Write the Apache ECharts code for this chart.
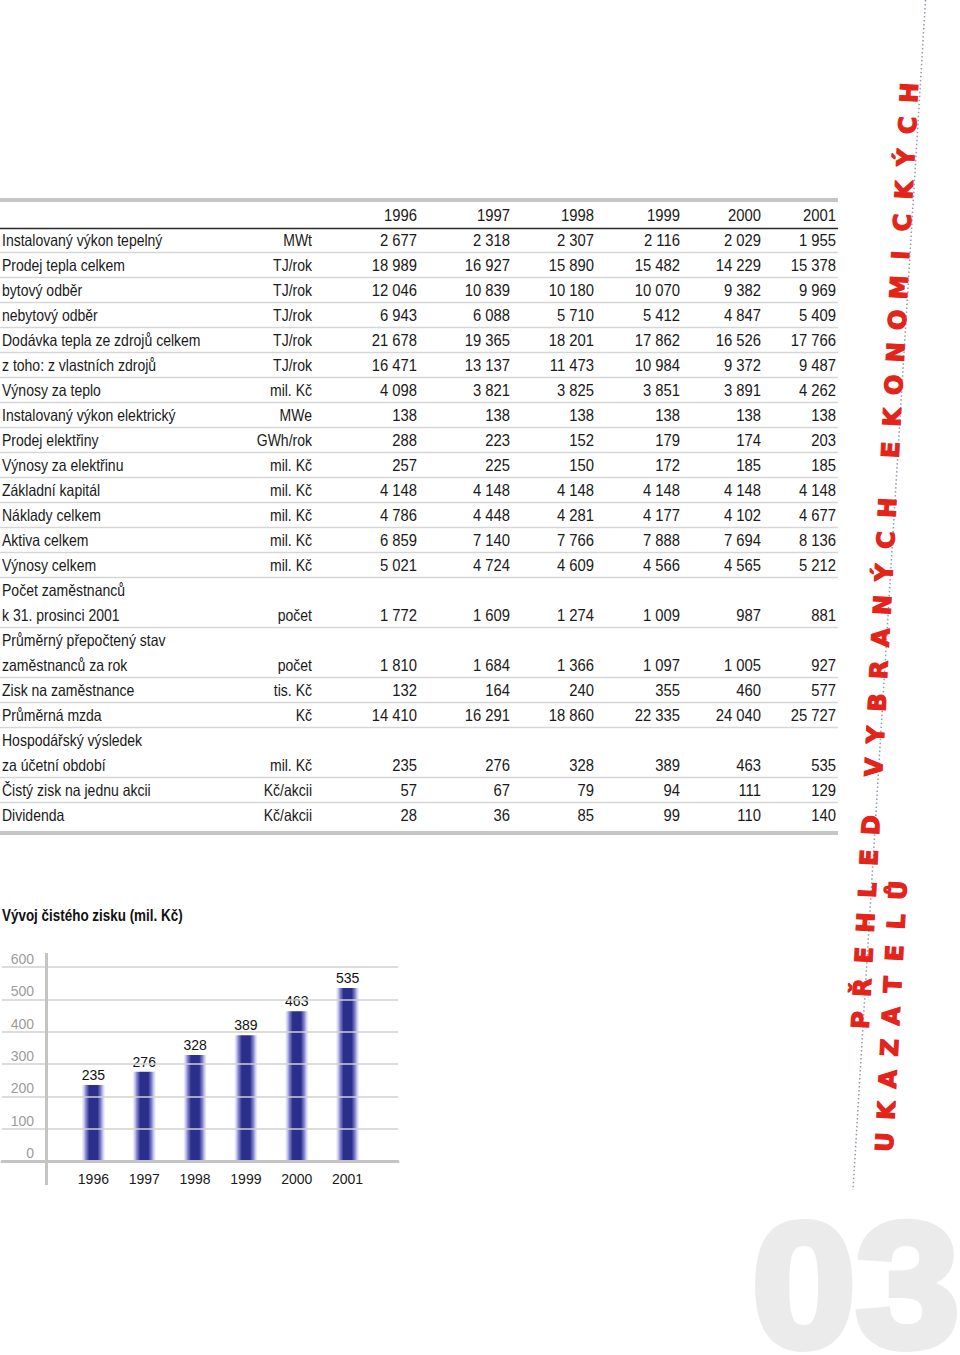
<!DOCTYPE html>
<html><head><meta charset="utf-8">
<script src="https://cdn.jsdelivr.net/npm/echarts@6/dist/echarts.min.js"></script>
<style>html,body{margin:0;padding:0;background:#fff}#c{width:960px;height:1355px}</style>
</head><body><div id="c"></div>
<script>
// ---------- data ----------
const years = ['1996', '1997', '1998', '1999', '2000', '2001'];
const rowLabels = [
  'Instalovaný výkon tepelný', 'Prodej tepla celkem', 'bytový odběr', 'nebytový odběr',
  'Dodávka tepla ze zdrojů celkem', 'z toho: z vlastních zdrojů', 'Výnosy za teplo',
  'Instalovaný výkon elektrický', 'Prodej elektřiny', 'Výnosy za elektřinu', 'Základní kapitál',
  'Náklady celkem', 'Aktiva celkem', 'Výnosy celkem', 'Počet zaměstnanců', 'k 31. prosinci 2001',
  'Průměrný přepočtený stav', 'zaměstnanců za rok', 'Zisk na zaměstnance', 'Průměrná mzda',
  'Hospodářský výsledek', 'za účetní období', 'Čistý zisk na jednu akcii', 'Dividenda'
];
const rowUnits = [
  'MWt', 'TJ/rok', 'TJ/rok', 'TJ/rok', 'TJ/rok', 'TJ/rok', 'mil. Kč', 'MWe', 'GWh/rok', 'mil. Kč',
  'mil. Kč', 'mil. Kč', 'mil. Kč', 'mil. Kč', '', 'počet', '', 'počet', 'tis. Kč', 'Kč', '', 'mil. Kč',
  'Kč/akcii', 'Kč/akcii'
];
const rowValues = [
  [2677, 2318, 2307, 2116, 2029, 1955],
  [18989, 16927, 15890, 15482, 14229, 15378],
  [12046, 10839, 10180, 10070, 9382, 9969],
  [6943, 6088, 5710, 5412, 4847, 5409],
  [21678, 19365, 18201, 17862, 16526, 17766],
  [16471, 13137, 11473, 10984, 9372, 9487],
  [4098, 3821, 3825, 3851, 3891, 4262],
  [138, 138, 138, 138, 138, 138],
  [288, 223, 152, 179, 174, 203],
  [257, 225, 150, 172, 185, 185],
  [4148, 4148, 4148, 4148, 4148, 4148],
  [4786, 4448, 4281, 4177, 4102, 4677],
  [6859, 7140, 7766, 7888, 7694, 8136],
  [5021, 4724, 4609, 4566, 4565, 5212],
  null,
  [1772, 1609, 1274, 1009, 987, 881],
  null,
  [1810, 1684, 1366, 1097, 1005, 927],
  [132, 164, 240, 355, 460, 577],
  [14410, 16291, 18860, 22335, 24040, 25727],
  null,
  [235, 276, 328, 389, 463, 535],
  [57, 67, 79, 94, 111, 129],
  [28, 36, 85, 99, 110, 140]
];
const profitYears = ['1996', '1997', '1998', '1999', '2000', '2001'];
const profitValues = [235, 276, 328, 389, 463, 535];
const chartTitle = 'Vývoj čistého zisku (mil. Kč)';
const sideTitle1 = 'PŘEHLED VYBRANÝCH EKONOMICKÝCH';
const sideTitle2 = 'UKAZATELŮ';
const pageNumber = '03';

// ---------- layout ----------
const SANS = '"Liberation Sans", Arial, sans-serif';
const HEAVY = '"DejaVu Sans", "Liberation Sans", sans-serif';
const TEXT = '#1a1a1a';
const tableLeft = 0, tableRight = 838;
const headerY = 215, rowY0 = 240, rowH = 25;
const unitRight = 312;
const colRight = [417, 510, 594, 680, 761, 836];
const LABEL_SX = 0.86, NUM_SX = 0.91;
const fmt = v => String(v).replace(/\B(?=(\d{3})+(?!\d))/g, ' ');

const g = [];
function txt(s, x, y, o) {
  o = o || {};
  const st = {
    text: s, fill: o.fill || TEXT, fontSize: o.size || 16.3, fontFamily: o.family || SANS,
    fontWeight: o.weight || 'normal', align: o.align || 'left', verticalAlign: o.va || 'middle'
  };
  if (o.stroke) { st.stroke = o.stroke; st.lineWidth = o.lw; }
  g.push({
    type: 'text', x: x, y: y, rotation: o.rot || 0, scaleX: o.sx || 1, z: o.z || 10, silent: true,
    style: st
  });
}
function line(x1, y1, x2, y2, stroke, w, dash) {
  g.push({ type: 'line', silent: true, z: 5, shape: { x1, y1, x2, y2 },
    style: { stroke, lineWidth: w, lineDash: dash || null } });
}

// table rules
line(tableLeft, 200, tableRight, 200, '#c6c6c6', 4);
line(tableLeft, 228.5, tableRight, 228.5, '#2a2a2a', 1.5);
line(tableLeft, 833, tableRight, 833, '#c6c6c6', 4);
years.forEach((y, j) => txt(y, colRight[j], headerY, { align: 'right', sx: NUM_SX }));
rowLabels.forEach((lab, i) => {
  const y = rowY0 + i * rowH;
  txt(lab, 2, y, { sx: LABEL_SX });
  if (rowUnits[i]) txt(rowUnits[i], unitRight, y, { align: 'right', sx: LABEL_SX });
  if (rowValues[i]) rowValues[i].forEach((v, j) => txt(fmt(v), colRight[j], y, { align: 'right', sx: NUM_SX }));
  if (i < rowLabels.length - 1 && rowValues[i]) {
    const ly = y + 12.5;
    line(tableLeft, ly, tableRight, ly, '#d6d6d6', 1.5);
  }
});

// chart title
txt(chartTitle, 2, 916, { weight: 'bold', size: 16, fill: '#111', sx: 0.84 });
// y axis extended line
line(46.5, 953, 46.5, 1185, '#c4c4c4', 3);

// side titles (letters along a slightly tilted line)
const ang = 3 * Math.PI / 180;
const dx = Math.sin(ang), dy = -Math.cos(ang);
function sideText(str, sx, sy, pitch, spaceExtra) {
  let d = 0;
  for (const ch of str) {
    if (ch === ' ') { d += spaceExtra; continue; }
    txt(ch, sx + dx * d, sy + dy * d, { rot: Math.PI / 2 - ang, align: 'center', size: 24,
      weight: 'bold', family: HEAVY, fill: '#e3241b', stroke: '#e3241b', lw: 1.3 });
    d += pitch;
  }
}
sideText(sideTitle1, 861, 1020, 32.5, 25.5);
sideText(sideTitle2, 885, 1142, 31.5, 25);
// dotted guide line
line(925.5, 0, 853, 1190, '#8c9cab', 1.5, [1.5, 2.5]);
// page number
txt(pageNumber, 752, 1285, { size: 176, weight: 'bold', family: SANS, fill: '#ebebeb',
  stroke: '#ebebeb', lw: 8, z: 1, sx: 1.06 });

// ---------- chart ----------
const chart = echarts.init(document.getElementById('c'), null, { renderer: 'svg', width: 960, height: 1355 });
const barGrad = new echarts.graphic.LinearGradient(0, 0, 1, 0, [
  { offset: 0, color: 'rgba(200,202,245,0.2)' },
  { offset: 0.17, color: 'rgba(110,115,200,0.85)' },
  { offset: 0.32, color: '#2b2f8c' },
  { offset: 0.68, color: '#2b2f8c' },
  { offset: 0.83, color: 'rgba(110,115,200,0.85)' },
  { offset: 1, color: 'rgba(200,202,245,0.2)' }
]);
chart.setOption({
  backgroundColor: '#ffffff',
  animation: false,
  grid: [
    { left: 2, width: 396, top: 967, height: 194 },
    { left: 68, width: 305, top: 967, height: 194 }
  ],
  xAxis: [
    { gridIndex: 0, type: 'value', min: 0, max: 1, z: 4,
      axisLine: { show: true, lineStyle: { color: '#c4c4c4', width: 3 } },
      axisTick: { show: false }, axisLabel: { show: false }, splitLine: { show: false } },
    { gridIndex: 1, type: 'category', data: profitYears,
      axisLine: { show: false }, axisTick: { show: false },
      axisLabel: { color: '#1a1a1a', fontSize: 14, fontFamily: SANS, margin: 11 } }
  ],
  yAxis: [
    { gridIndex: 0, type: 'value', min: 0, max: 600, interval: 100, z: 3,
      axisLine: { show: false }, axisTick: { show: false },
      axisLabel: { inside: true, align: 'right', margin: 32, verticalAlign: 'bottom',
        color: '#9c9c9c', fontSize: 14, fontFamily: SANS, padding: [0, 0, 1, 0] },
      splitLine: { lineStyle: { color: '#d0d0d0', width: 1.5 } } },
    { gridIndex: 1, type: 'value', min: 0, max: 600, interval: 100, show: false }
  ],
  series: [{
    type: 'bar', xAxisIndex: 1, yAxisIndex: 1, data: profitValues, barWidth: 23,
    itemStyle: { color: barGrad },
    label: { show: true, position: 'top', distance: 3, color: '#111', fontSize: 14, fontFamily: SANS }
  }],
  graphic: g
});
</script></body></html>
